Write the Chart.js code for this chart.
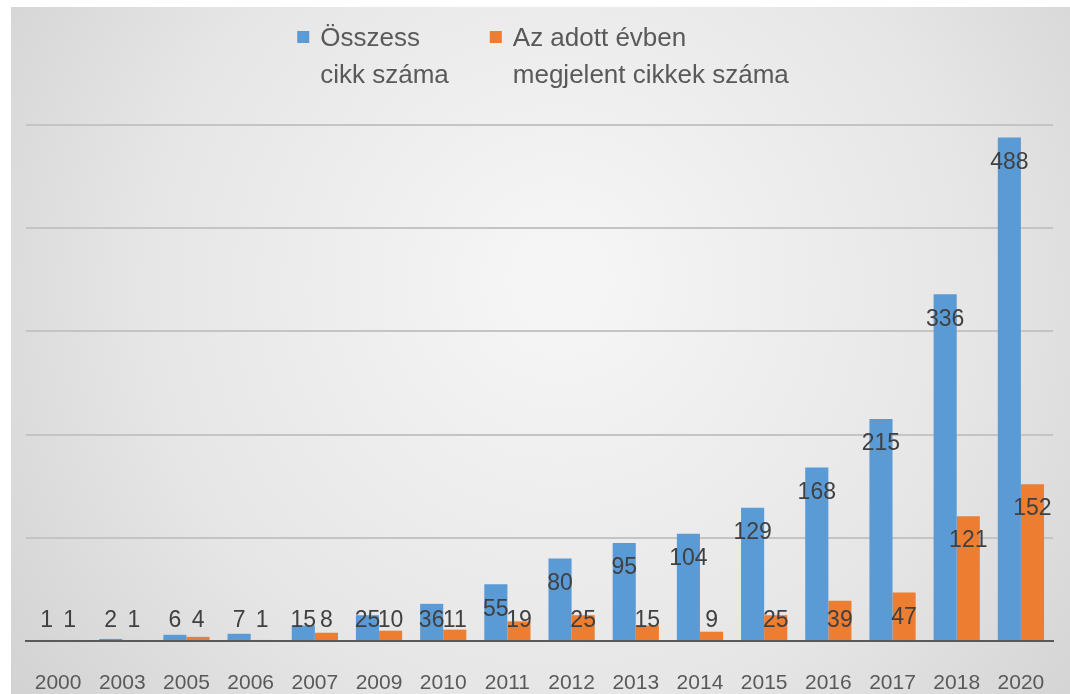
<!DOCTYPE html>
<html>
<head>
<meta charset="utf-8">
<script src="https://cdn.jsdelivr.net/npm/chart.js@4.4.1/dist/chart.umd.min.js"></script>
<style>
  html, body { margin: 0; padding: 0; background: #fff; }
  #wrap { width: 1070px; height: 694px; }
</style>
</head>
<body>
<div id="wrap"><canvas id="chart" width="1070" height="694"></canvas></div>
<script>
const years = ['2000', '2003', '2005', '2006', '2007', '2009', '2010', '2011', '2012', '2013', '2014', '2015', '2016', '2017', '2018', '2020'];
const totalArticles = [1, 2, 6, 7, 15, 25, 36, 55, 80, 95, 104, 129, 168, 215, 336, 488];
const yearlyArticles = [1, 1, 4, 1, 8, 10, 11, 19, 25, 15, 9, 25, 39, 47, 121, 152];
const seriesNames = [['Összess', 'cikk száma'], ['Az adott évben', 'megjelent cikkek száma']];
const seriesColors = ['#5b9bd5', '#ed7d31'];

// háttér: fehér keret + szürke sugaras átmenet
const background = {
    id: 'background',
    beforeDraw(chart) {
        const ctx = chart.ctx;
        const w = chart.width, h = chart.height;
        ctx.save();
        ctx.fillStyle = '#ffffff';
        ctx.fillRect(0, 0, w, h);
        const g = ctx.createRadialGradient(560, 280, 40, 560, 300, 720);
        g.addColorStop(0, '#f5f5f5');
        g.addColorStop(0.55, '#e6e6e6');
        g.addColorStop(1, '#cfcfcf');
        ctx.fillStyle = g;
        ctx.fillRect(11, 7, w - 11, h - 7);
        ctx.restore();
    }
};

// kétsoros jelmagyarázat
const twoLineLegend = {
    id: 'twoLineLegend',
    afterDraw(chart) {
        const ctx = chart.ctx;
        ctx.save();
        ctx.font = '26px "Liberation Sans", Arial, sans-serif';
        ctx.textBaseline = 'alphabetic';
        const box = 12, gap = 11, itemGap = 41;
        const widths = chart.data.datasets.map(ds =>
            Math.max(...ds.label.map(t => ctx.measureText(t).width)));
        const total = widths.reduce((a, b) => a + b, 0) + widths.length * (box + gap) + itemGap * (widths.length - 1);
        let x = 543 - total / 2;
        chart.data.datasets.forEach((ds, i) => {
            ctx.fillStyle = ds.backgroundColor;
            ctx.fillRect(x, 31, box, box);
            ctx.fillStyle = '#595959';
            ds.label.forEach((line, k) => ctx.fillText(line, x + box + gap, 46 + k * 37));
            x += box + gap + widths[i] + itemGap;
        });
        ctx.restore();
    }
};

// értékcímkék az oszlopok tetején belül
const valueLabels = {
    id: 'valueLabels',
    afterDatasetsDraw(chart) {
        const ctx = chart.ctx;
        const floor = chart.scales.y.getPixelForValue(0) - 20;
        ctx.save();
        ctx.font = '23px "Liberation Sans", Arial, sans-serif';
        ctx.fillStyle = '#404040';
        ctx.textAlign = 'center';
        ctx.textBaseline = 'middle';
        chart.data.datasets.forEach((ds, i) => {
            chart.getDatasetMeta(i).data.forEach((bar, j) => {
                ctx.fillText(ds.data[j], bar.x, Math.min(bar.y + 25, floor));
            });
        });
        ctx.restore();
    }
};

new Chart(document.getElementById('chart'), {
    type: 'bar',
    plugins: [background, valueLabels, twoLineLegend],
    data: {
        labels: years,
        datasets: [{
            label: seriesNames[0],
            data: totalArticles,
            backgroundColor: seriesColors[0],
            categoryPercentage: 0.72,
            barPercentage: 1
        }, {
            label: seriesNames[1],
            data: yearlyArticles,
            backgroundColor: seriesColors[1],
            categoryPercentage: 0.72,
            barPercentage: 1
        }]
    },
    options: {
        responsive: false,
        animation: false,
        layout: { padding: { left: 26, right: 17, top: 125, bottom: 0 } },
        plugins: {
            legend: { display: false },
            tooltip: { enabled: false }
        },
        scales: {
            x: {
                grid: { display: false },
                border: { color: '#595959', width: 2 },
                ticks: {
                    color: '#595959',
                    padding: 22,
                    font: { family: '"Liberation Sans", Arial, sans-serif', size: 21 }
                },
                afterFit: scale => { scale.height = 53; }
            },
            y: {
                min: 0,
                max: 500,
                ticks: { display: false, stepSize: 100 },
                grid: { color: '#c4c4c4', lineWidth: 2, drawTicks: false },
                border: { display: false },
                afterFit: scale => { scale.width = 0; }
            }
        }
    }
});
</script>
</body>
</html>
